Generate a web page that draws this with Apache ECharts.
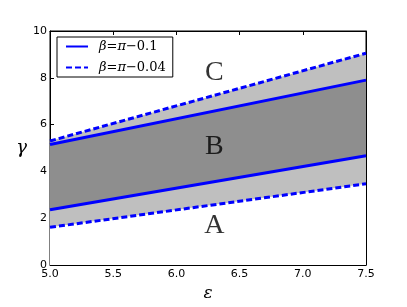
<!DOCTYPE html>
<html>
<head>
<meta charset="utf-8">
<script src="https://cdn.jsdelivr.net/npm/echarts@6/dist/echarts.min.js"></script>
<style>html,body{margin:0;padding:0;background:#fff}#c{width:407px;height:307px}</style>
</head>
<body>
<div id="c"></div>
<script>
const xVals = [5.0, 7.5];
const dashedLower = [1.61, 3.47];
const solidLower = [2.36, 4.67];
const solidUpper = [5.15, 7.90];
const dashedUpper = [5.30, 9.05];
const regionText = ['C', 'B', 'A'];
const regionX = [6.3, 6.3, 6.3];
const regionY = [8.24, 5.04, 1.68];
const nameSolid = 'β=π−0.1';
const nameDashed = 'β=π−0.04';

const pts = arr => xVals.map((x, i) => [x, arr[i]]);

const chart = echarts.init(document.getElementById('c'));
const areaSeries = (arr, color) => ({
  type: 'line', data: pts(arr), symbol: 'none', z: 1,
  lineStyle: { width: 0, opacity: 0 }, areaStyle: { color: color, opacity: 1, origin: 'start' },
  silent: true, animation: false
});
const lineSeries = (name, arr, type) => ({
  name: name, type: 'line', data: pts(arr), symbol: 'none', showSymbol: false, z: 3,
  lineStyle: { color: '#0000ff', width: 3, type: type }, itemStyle: { color: '#0000ff' },
  animation: false
});
const tickCommon = { inside: true, length: 4, lineStyle: { color: '#000' } };

chart.setOption({
  animation: false,
  grid: { left: 50, right: 41, top: 31, bottom: 32, show: true, borderColor: '#000', borderWidth: 1, backgroundColor: 'transparent' },
  xAxis: [{
    type: 'value', min: 5.0, max: 7.5, interval: 0.5,
    name: 'ε', nameLocation: 'middle', nameGap: 20,
    nameTextStyle: { fontFamily: 'DejaVu Serif', fontStyle: 'italic', fontSize: 17, color: '#000' },
    axisLine: { onZero: false, lineStyle: { color: '#000', width: 1 } },
    axisTick: tickCommon,
    axisLabel: { color: '#000', fontFamily: 'DejaVu Sans', fontSize: 11, margin: 4, formatter: v => v.toFixed(1) },
    splitLine: { show: false }
  }, {
    type: 'value', position: 'top', min: 5.0, max: 7.5, interval: 0.5,
    axisLine: { show: true, onZero: false, lineStyle: { color: '#000', width: 1 } },
    axisTick: tickCommon,
    axisLabel: { show: false }, splitLine: { show: false }
  }],
  yAxis: [{
    type: 'value', min: 0, max: 10, interval: 2,
    name: 'γ', nameLocation: 'middle', nameGap: 16, nameRotate: 0,
    nameTextStyle: { fontFamily: 'DejaVu Serif', fontStyle: 'italic', fontSize: 18, color: '#000' },
    axisLine: { show: true, onZero: false, lineStyle: { color: '#000', width: 1 } },
    axisTick: Object.assign({ show: true }, tickCommon),
    axisLabel: { color: '#000', fontFamily: 'DejaVu Sans', fontSize: 11, margin: 3 },
    splitLine: { show: false }
  }, {
    type: 'value', position: 'right', min: 0, max: 10, interval: 2,
    axisLine: { show: true, onZero: false, lineStyle: { color: '#000', width: 1 } },
    axisTick: Object.assign({ show: true }, tickCommon),
    axisLabel: { show: false }, splitLine: { show: false }
  }],
  legend: {
    data: [nameSolid, nameDashed],
    orient: 'vertical', left: 57, top: 37,
    backgroundColor: '#fff', borderColor: '#000', borderWidth: 1, borderRadius: 0,
    padding: [3, 7, 3, 8], itemWidth: 22, itemHeight: 14, itemGap: 8,
    itemStyle: { opacity: 0 },
    formatter: n => n === nameSolid ? '{i|β}{n|=}{i|π}{n|−0.1}' : '{i|β}{n|=}{i|π}{n|−0.04}',
    textStyle: {
      padding: [0, 0, 0, 6],
      rich: {
        i: { fontFamily: 'DejaVu Serif', fontStyle: 'italic', fontSize: 13, color: '#000' },
        n: { fontFamily: 'DejaVu Serif', fontSize: 13, color: '#000' }
      }
    }
  },
  series: [
    areaSeries(dashedUpper, '#bfbfbf'),
    areaSeries(solidUpper, '#8e8e8e'),
    areaSeries(solidLower, '#bfbfbf'),
    areaSeries(dashedLower, '#ffffff'),
    lineSeries(nameSolid, solidUpper, 'solid'),
    lineSeries(nameSolid, solidLower, 'solid'),
    lineSeries(nameDashed, dashedUpper, [6, 3]),
    lineSeries(nameDashed, dashedLower, [6, 3]),
    {
      type: 'scatter', symbolSize: 0, z: 4, silent: true,
      data: regionX.map((x, i) => ({ value: [x, regionY[i]], name: regionText[i] })),
      label: { show: true, position: 'inside', formatter: p => p.name,
        fontFamily: 'Liberation Serif', fontSize: 28, color: '#000' }
    }
  ]
});
</script>
</body>
</html>
